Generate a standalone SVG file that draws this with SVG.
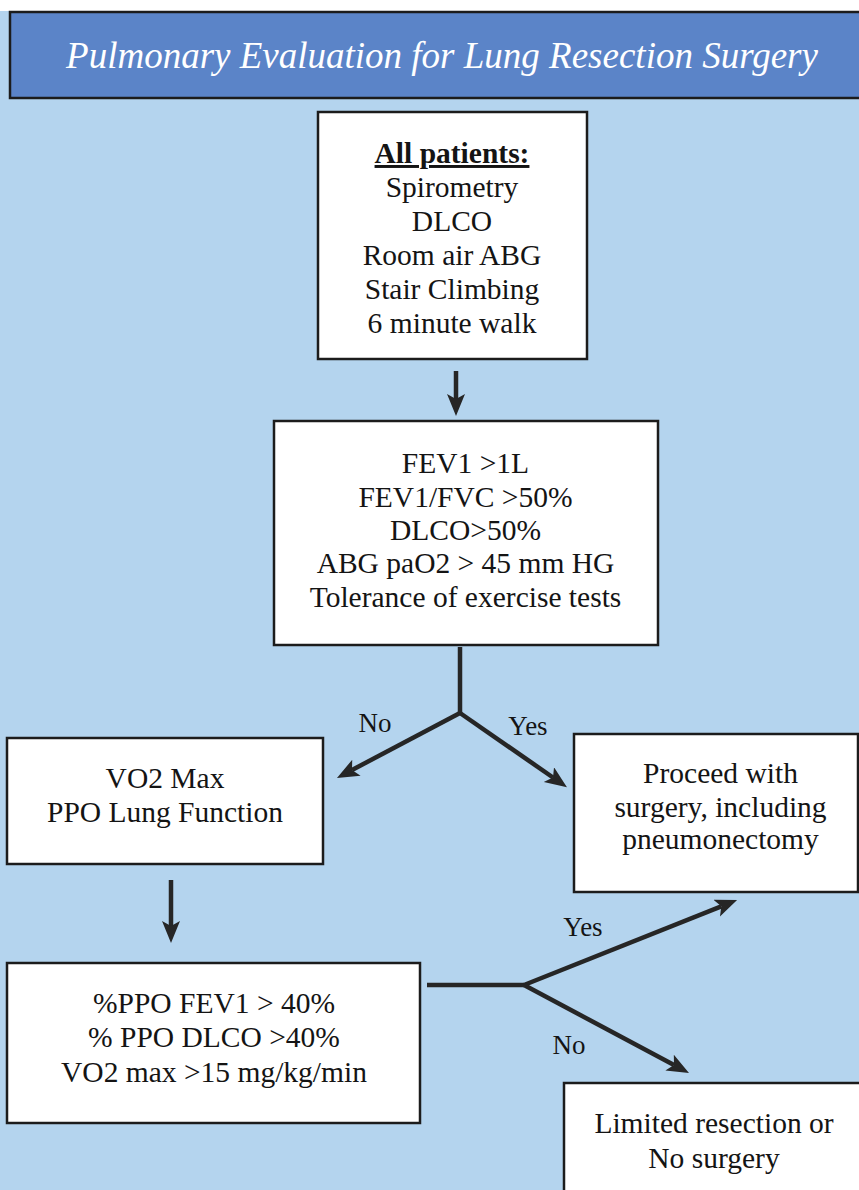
<svg xmlns="http://www.w3.org/2000/svg" width="859" height="1190" viewBox="0 0 859 1190">
<style>
  .box { fill: #ffffff; stroke: #1c1c1c; stroke-width: 2.5; }
  .t { font-family: "Liberation Serif", "Times New Roman", serif; font-size: 29.5px; fill: #141414; text-anchor: middle; }
  .lbl { font-family: "Liberation Serif", "Times New Roman", serif; font-size: 27px; fill: #141414; text-anchor: middle; }
  .title { font-family: "Liberation Serif", "Times New Roman", serif; font-style: italic; font-size: 37px; fill: #ffffff; text-anchor: middle; }
  .conn { fill: none; stroke: #262626; stroke-width: 4.5; stroke-linecap: butt; }
</style>
<defs>
  <marker id="ah" markerUnits="userSpaceOnUse" markerWidth="24" markerHeight="20" refX="5" refY="9" orient="auto">
    <path d="M0,0 L22,9 L0,18 L5,9 z" fill="#262626"/>
  </marker>
</defs>

<rect x="0" y="0" width="859" height="1190" fill="#b4d4ee"/>
<rect x="0" y="0" width="859" height="11" fill="#ffffff"/>

<g id="header">
  <rect x="10" y="12" width="852" height="86" fill="#5b84c8" stroke="#1c1c1c" stroke-width="2.5"/>
  <text class="title" x="442" y="68">Pulmonary Evaluation for Lung Resection Surgery</text>
</g>

<g id="connectors">
  <path class="conn" d="M456,371 L456,399" marker-end="url(#ah)"/>
  <path class="conn" d="M460,647 L460,713"/>
  <path class="conn" d="M460,713 L352,770" marker-end="url(#ah)"/>
  <path class="conn" d="M460,713 L553,777.5" marker-end="url(#ah)"/>
  <path class="conn" d="M171,880 L171,926" marker-end="url(#ah)"/>
  <path class="conn" d="M427,985 L524,985"/>
  <path class="conn" d="M524,985 L721.3,906.3" marker-end="url(#ah)"/>
  <path class="conn" d="M524,985 L674,1065" marker-end="url(#ah)"/>
  <text class="lbl" x="375" y="732">No</text>
  <text class="lbl" x="528" y="735">Yes</text>
  <text class="lbl" x="583" y="936">Yes</text>
  <text class="lbl" x="569" y="1054">No</text>
</g>

<g id="all-patients">
  <rect class="box" x="318" y="112" width="269" height="247"/>
  <text class="t" x="452" y="163" font-weight="bold" text-decoration="underline">All patients:</text>
  <text class="t" x="452" y="197">Spirometry</text>
  <text class="t" x="452" y="231">DLCO</text>
  <text class="t" x="452" y="265">Room air ABG</text>
  <text class="t" x="452" y="299">Stair Climbing</text>
  <text class="t" x="452" y="333">6 minute walk</text>
</g>

<g id="criteria">
  <rect class="box" x="274" y="421" width="384" height="224"/>
  <text class="t" x="465.5" y="473">FEV1 &gt;1L</text>
  <text class="t" x="465.5" y="507">FEV1/FVC &gt;50%</text>
  <text class="t" x="465.5" y="540">DLCO&gt;50%</text>
  <text class="t" x="465.5" y="573">ABG paO2 &gt; 45 mm HG</text>
  <text class="t" x="465.5" y="607">Tolerance of exercise tests</text>
</g>

<g id="vo2">
  <rect class="box" x="7" y="738" width="316" height="126"/>
  <text class="t" x="165" y="788">VO2 Max</text>
  <text class="t" x="165" y="822">PPO Lung Function</text>
</g>

<g id="proceed">
  <rect class="box" x="574" y="734" width="284" height="158"/>
  <text class="t" x="720.5" y="783">Proceed with</text>
  <text class="t" x="720.5" y="817">surgery, including</text>
  <text class="t" x="720.5" y="849">pneumonectomy</text>
</g>

<g id="ppo">
  <rect class="box" x="7" y="963" width="413" height="160"/>
  <text class="t" x="214" y="1013">%PPO FEV1 &gt; 40%</text>
  <text class="t" x="214" y="1047">% PPO DLCO &gt;40%</text>
  <text class="t" x="214" y="1082">VO2 max &gt;15 mg/kg/min</text>
</g>

<g id="limited">
  <rect class="box" x="564" y="1083" width="300" height="120"/>
  <text class="t" x="714" y="1133">Limited resection or</text>
  <text class="t" x="714" y="1168">No surgery</text>
</g>
</svg>
